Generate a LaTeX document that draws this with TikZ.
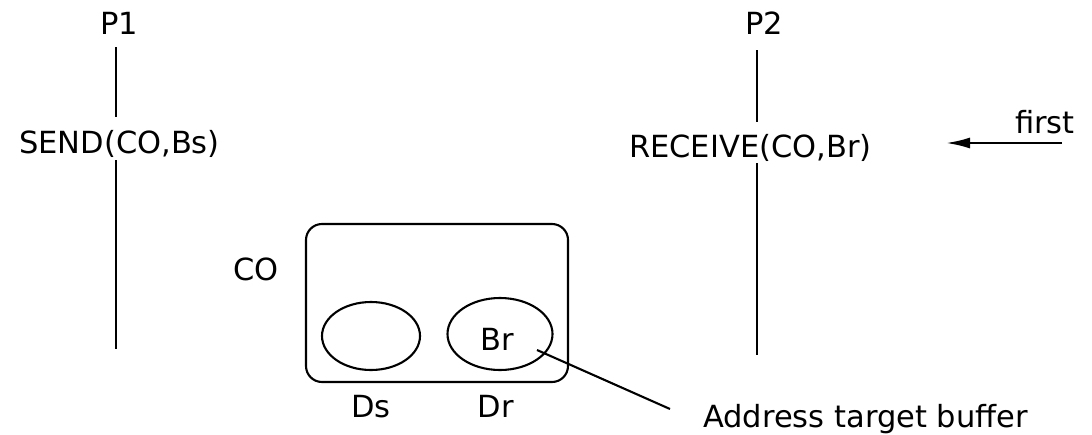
\documentclass[tikz,border=0pt]{standalone}
\usepackage{fontspec}
\setmainfont{DejaVu Sans}
\usetikzlibrary{arrows.meta,shapes.geometric}
\begin{document}
\begin{tikzpicture}[x=1pt,y=-1pt,
  lbl/.style={inner sep=0pt,anchor=base,font=\fontsize{30.5}{36}\selectfont},
  ln/.style={line width=2.3pt},
  tln/.style={line width=2.1pt}]
\useasboundingbox (0,0) rectangle (1092,434);
% P1
\node[lbl] (p1) at (119,34) {P1};
\node[lbl,anchor=base west] (send) at (19,153) {SEND(CO,Bs)};
\coordinate (p1a) at (116,47);
\coordinate (p1b) at (116,117);
\coordinate (p1c) at (116,160);
\coordinate (p1d) at (116,349);
\draw[ln] (p1a) -- (p1b);
\draw[ln] (p1c) -- (p1d);
% P2
\node[lbl] (p2) at (764,34) {P2};
\node[lbl,anchor=base west] (recv) at (629,157) {RECEIVE(CO,Br)};
\coordinate (p2a) at (757,50);
\coordinate (p2b) at (757,122);
\coordinate (p2c) at (757,163);
\coordinate (p2d) at (757,355);
\draw[ln] (p2a) -- (p2b);
\draw[ln] (p2c) -- (p2d);
% first
\node[lbl] (first) at (1045,133) {first};
\coordinate (fa) at (1062,143);
\coordinate (fb) at (946,143);
\draw[ln,-{Latex[length=24pt,width=11pt]}] (fa) -- (fb);
% CO box
\node[lbl] (co) at (256,280) {CO};
\node[draw,tln,rounded corners=16pt,minimum width=262pt,minimum height=158pt,inner sep=0pt] (box) at (437,303) {};
\node[draw,tln,ellipse,minimum width=98pt,minimum height=68pt,inner sep=0pt] (ds) at (371,336) {};
\node[draw,tln,ellipse,minimum width=105pt,minimum height=72pt,inner sep=0pt] (dr) at (500,334) {};
\node[lbl] (br) at (497,350) {Br};
\node[lbl] (dsl) at (371,417) {Ds};
\node[lbl] (drl) at (496,417) {Dr};
\node[lbl,anchor=base west] (addr) at (703,427) {Address target buffer};
\coordinate (brp) at (537,350);
\coordinate (ap) at (670,409);
\draw[tln] (brp) -- (ap);
\end{tikzpicture}
\end{document}
